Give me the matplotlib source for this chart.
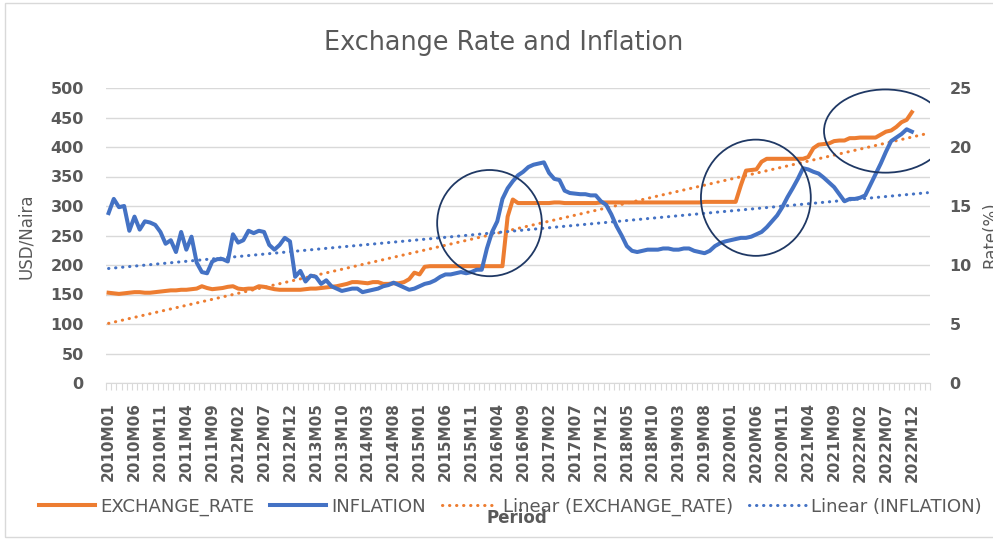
import numpy as np
import matplotlib.pyplot as plt
from matplotlib.patches import Ellipse, Rectangle

# monthly categories 2010M01 .. 2023M03 (data stops at 2022M12)
periods = [f"{y}M{m:02d}" for y in range(2010, 2024) for m in range(1, 13)][:159]

exchange_rate = [
    153, 152, 151, 152, 153, 154, 154, 153, 153, 154, 155, 156,   # 2010
    157, 157, 158, 158, 159, 160, 164, 161, 159, 160, 161, 163,   # 2011
    164, 160, 159, 160, 160, 164, 163, 161, 159, 158, 158, 158,   # 2012
    158, 158, 159, 160, 160, 161, 162, 163, 164, 166, 168, 171,   # 2013
    171, 170, 169, 171, 171, 168, 168, 169, 169, 171, 176, 187,   # 2014
    184, 197, 198, 198, 198, 198, 198, 198, 198, 198, 198, 198,   # 2015
    198, 198, 198, 198, 198, 282, 311, 305, 305, 305, 305, 305,   # 2016
    305, 305, 306, 306, 305, 305, 305, 305, 305, 305, 305, 306,   # 2017
    306, 306, 306, 306, 306, 306, 306, 306, 306, 306, 306, 306,   # 2018
    306, 306, 306, 306, 306, 306, 306, 307, 307, 307, 307, 307,   # 2019
    307, 307, 335, 360, 361, 362, 375, 380, 380, 380, 380, 380,   # 2020
    380, 380, 380, 383, 398, 404, 405, 406, 410, 411, 411, 415,   # 2021
    415, 416, 416, 416, 416, 421, 426, 428, 434, 442, 446, 459,   # 2022
]

inflation = [
    14.4, 15.6, 14.9, 15.0, 12.9, 14.1, 13.0, 13.7, 13.6, 13.4, 12.8, 11.8,
    12.1, 11.1, 12.8, 11.3, 12.4, 10.2, 9.4, 9.3, 10.3, 10.5, 10.5, 10.3,
    12.6, 11.9, 12.1, 12.9, 12.7, 12.9, 12.8, 11.7, 11.3, 11.7, 12.3, 12.0,
    9.0, 9.5, 8.6, 9.1, 9.0, 8.4, 8.7, 8.2, 8.0, 7.8, 7.9, 8.0,
    8.0, 7.7, 7.8, 7.9, 8.0, 8.2, 8.3, 8.5, 8.3, 8.1, 7.9, 8.0,
    8.2, 8.4, 8.5, 8.7, 9.0, 9.2, 9.2, 9.3, 9.4, 9.3, 9.4, 9.6,
    9.6, 11.4, 12.8, 13.7, 15.6, 16.5, 17.1, 17.6, 17.9, 18.3, 18.5, 18.6,
    18.7, 17.8, 17.3, 17.2, 16.3, 16.1, 16.05, 16.0, 16.0, 15.9, 15.9, 15.4,
    15.1, 14.3, 13.3, 12.5, 11.6, 11.2, 11.1, 11.2, 11.3, 11.3, 11.3, 11.4,
    11.4, 11.3, 11.3, 11.4, 11.4, 11.2, 11.1, 11.0, 11.2, 11.6, 11.85, 12.0,
    12.1, 12.2, 12.3, 12.3, 12.4, 12.6, 12.8, 13.2, 13.7, 14.2, 14.9, 15.75,
    16.5, 17.3, 18.2, 18.1, 17.9, 17.75, 17.4, 17.0, 16.6, 16.0, 15.4, 15.6,
    15.6, 15.7, 15.9, 16.8, 17.7, 18.6, 19.6, 20.5, 20.8, 21.1, 21.5, 21.3,
]

# highlight circles: (category centre, USD/Naira centre, width in months, height)
circles = [(73.5, 271, 20.2, 180), (124.9, 314, 21.2, 197), (149.9, 427, 23.7, 141)]

orange = '#ED7D31'
blue = '#4472C4'
grey = '#595959'

fig = plt.figure(figsize=(9.93, 5.39), dpi=100)
ax = fig.add_axes([106 / 993, 1 - 383 / 539, 824 / 993, 295 / 539])
ax2 = ax.twinx()

x = np.arange(len(exchange_rate))
xt = np.arange(len(periods))

l1, = ax.plot(x, exchange_rate, color=orange, lw=2.9, solid_joinstyle='round')
l2, = ax2.plot(x, inflation, color=blue, lw=2.9, solid_joinstyle='round')

c1 = np.polyfit(x, exchange_rate, 1)
c2 = np.polyfit(x, inflation, 1)
dots = (0, (0.1, 2.2))
l3, = ax.plot(xt, np.polyval(c1, xt), color=orange, lw=2.2, ls=dots, dash_capstyle='round')
l4, = ax2.plot(xt, np.polyval(c2, xt), color=blue, lw=2.2, ls=dots, dash_capstyle='round')

ax.set_xlim(-0.5, len(periods) - 0.5)
ax.set_ylim(0, 500)
ax2.set_ylim(0, 25)
ax.set_yticks(range(0, 501, 50))
ax2.set_yticks(range(0, 26, 5))
ax.yaxis.grid(True, color='#D9D9D9', lw=1)
ax.set_axisbelow(True)

for a in (ax, ax2):
    for s in a.spines.values():
        s.set_visible(False)
ax.spines['bottom'].set_visible(True)
ax.spines['bottom'].set_color('#D9D9D9')

ax.set_xticks(np.arange(-0.5, len(periods), 1))
ax.set_xticklabels([])
ax.tick_params(axis='x', which='major', length=5, color='#D9D9D9', width=0.8)
ax.set_xticks(xt[::5], minor=True)
ax.set_xticklabels(periods[::5], minor=True, rotation=90, fontweight='bold',
                   fontsize=11, color=grey)
ax.tick_params(axis='x', which='minor', length=0, pad=14)

ax.tick_params(axis='y', length=0, pad=16, labelsize=11.5, labelcolor=grey)
ax2.tick_params(axis='y', length=0, pad=14, labelsize=11.5, labelcolor=grey)
for t in ax.get_yticklabels() + ax2.get_yticklabels():
    t.set_fontweight('bold')

for cx, cy, w, h in circles:
    ax2.add_patch(Ellipse((cx, cy), w, h, transform=ax.transData, fill=False,
                          ec='#1F3864', lw=1.3, zorder=5))

fig.text(504 / 993, 1 - 43 / 539, 'Exchange Rate and Inflation', fontsize=18.4,
         color=grey, ha='center', va='center')
fig.text(26 / 993, 1 - 236 / 539, 'USD/Naira', rotation=90, fontsize=12,
         color=grey, ha='center', va='center')
fig.text(981 / 993, 1 - 235 / 539, 'Rate(%)', rotation=90, fontsize=12,
         color=grey, ha='left', va='center')

fig.legend([l1, l2, l3, l4],
           ['EXCHANGE_RATE', 'INFLATION', 'Linear (EXCHANGE_RATE)', 'Linear (INFLATION)'],
           loc='center', bbox_to_anchor=(510 / 993, 1 - 507 / 539), ncol=4,
           frameon=False, fontsize=13.1, handlelength=3.1, handletextpad=0.28,
           columnspacing=0.87, labelcolor=grey)
fig.text(517 / 993, 1 - 518 / 539, 'Period', fontsize=12, fontweight='bold',
         color=grey, ha='center', va='center')

fig.patches.append(Rectangle((5 / 993, 2 / 539), 1.0, 1 - 5 / 539, transform=fig.transFigure,
                             fill=False, ec='#D9D9D9', lw=1))

fig.savefig('out.png', dpi=100)
